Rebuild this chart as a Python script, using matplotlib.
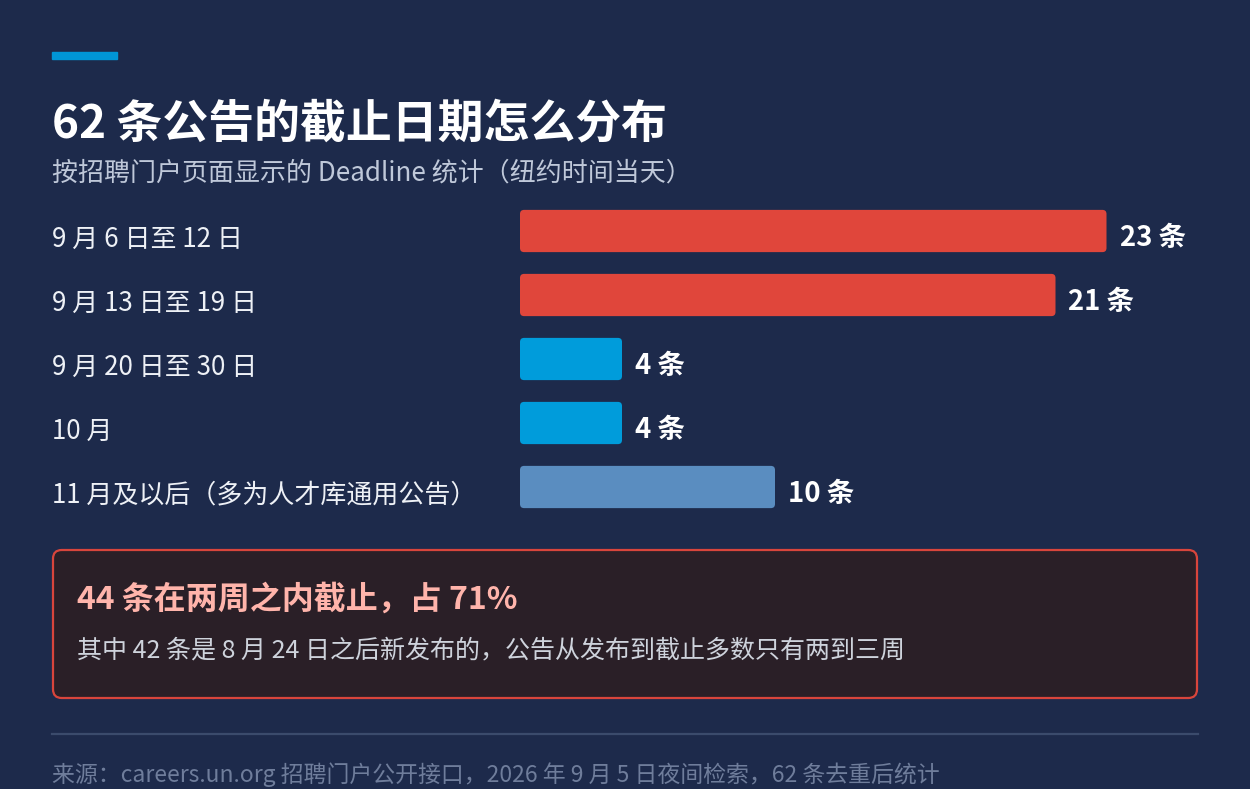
import matplotlib.pyplot as plt
from matplotlib.patches import FancyBboxPatch, Rectangle
from matplotlib.lines import Line2D
from matplotlib.transforms import blended_transform_factory, offset_copy

plt.rcParams['font.family'] = ['Noto Sans CJK SC', 'DejaVu Sans']

# data
categories = ["9 月 6 日至 12 日", "9 月 13 日至 19 日", "9 月 20 日至 30 日", "10 月",
              "11 月及以后（多为人才库通用公告）"]
counts = [23, 21, 4, 4, 10]
bar_colors = ["#e0463b", "#e0463b", "#009cdb", "#009cdb", "#5a8dc0"]

title = "62 条公告的截止日期怎么分布"
subtitle = "按招聘门户页面显示的 Deadline 统计（纽约时间当天）"
callout_head = "44 条在两周之内截止，占 71%"
callout_body = "其中 42 条是 8 月 24 日之后新发布的，公告从发布到截止多数只有两到三周"
source = "来源：careers.un.org 招聘门户公开接口，2026 年 9 月 5 日夜间检索，62 条去重后统计"

W, H = 1250, 789
bg = "#1d2a4b"
fig = plt.figure(figsize=(W / 100, H / 100), dpi=100)
fig.patch.set_facecolor(bg)

def fx(px):
    return px / W

def fy(py):
    return 1 - py / H

# accent bar
fig.patches.append(Rectangle((fx(52), fy(59)), fx(117) - fx(52), 7 / H,
                             transform=fig.transFigure, color="#0096d6"))

fig.text(fx(52), fy(124), title, color="white", fontsize=33, fontweight="bold", va="center")
fig.text(fx(52), fy(173), subtitle, color="#bfc8d9", fontsize=18.7, va="center")

# bar axes: 0 at x=520, 25.5 px per item; rows 64 px apart starting at y=199
ax = fig.add_axes([fx(520), fy(519), fx(1200) - fx(520), 320 / H])
ax.set_facecolor(bg)
ax.set_xlim(0, 680 / 25.5)
ax.set_ylim(len(categories) - 0.5, -0.5)
ax.axis("off")

bars = ax.barh(range(len(categories)), counts, height=0.66, color=bar_colors)
for b, c in zip(bars, bar_colors):
    x0, y0 = b.get_x(), b.get_y()
    w, h = b.get_width(), b.get_height()
    b.set_visible(False)
    ax.add_patch(FancyBboxPatch((x0, y0), w, h,
                                boxstyle="round,pad=0,rounding_size=0.16",
                                mutation_aspect=0.4, color=c, linewidth=0))

# labels sit a few pixels below the bar centre, as in the original
val_tr = offset_copy(ax.transData, fig=fig, x=13, y=-7, units="dots")
lab_tr = offset_copy(blended_transform_factory(fig.transFigure, ax.transData),
                     fig=fig, y=-8, units="dots")
for i, (cat, n) in enumerate(zip(categories, counts)):
    ax.text(n, i, f"{n} 条", color="white", fontsize=19.8,
            fontweight="bold", va="center", ha="left", transform=val_tr)
    ax.text(fx(52), i, cat, color="#eef1f6", fontsize=18.7,
            va="center", ha="left", transform=lab_tr)

# callout box
fig.patches.append(FancyBboxPatch((fx(53), fy(698)), fx(1197) - fx(53), 148 / H,
                                  boxstyle="round,pad=0,rounding_size=0.007",
                                  mutation_aspect=W / H,
                                  transform=fig.transFigure, facecolor="#2a1f27",
                                  edgecolor="#d8453c", linewidth=1.6))
fig.text(fx(77), fy(600), callout_head, color="#ffb4ab", fontsize=23, fontweight="bold",
         va="center")
fig.text(fx(77), fy(650), callout_body, color="#ced3dc", fontsize=18, va="center")

fig.add_artist(Line2D([fx(52), fx(1198)], [fy(734), fy(734)], color="#3b4b6c",
                      linewidth=1.6, transform=fig.transFigure))
fig.text(fx(52), fy(775), source, color="#6f7d9b", fontsize=16.5, va="center")

fig.savefig("out.png", dpi=100, facecolor=bg)
